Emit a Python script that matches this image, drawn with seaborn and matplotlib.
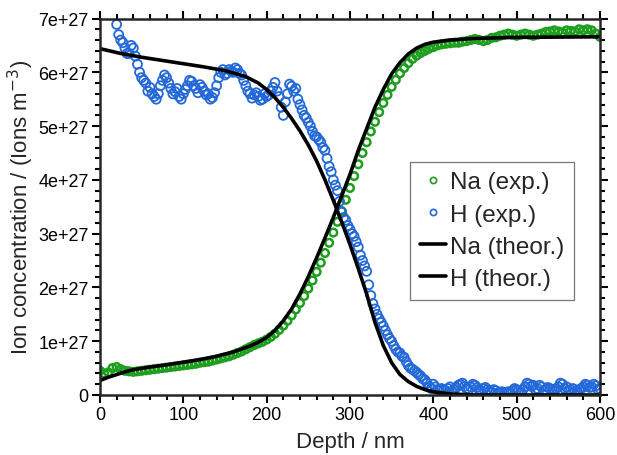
import numpy as np
import pandas as pd
import matplotlib
matplotlib.use("Agg")
import matplotlib.pyplot as plt
import seaborn as sns
from matplotlib.lines import Line2D
from matplotlib.ticker import MultipleLocator, FuncFormatter

# values in units of 1e27 ions m^-3
na_exp_depth = list(range(0, 601, 5))
na_exp = [
    0.45, 0.40, 0.42, 0.50, 0.52, 0.48, 0.45, 0.44, 0.43, 0.44,
    0.45, 0.46, 0.47, 0.48, 0.49, 0.50, 0.51, 0.52, 0.53, 0.54,
    0.55, 0.56, 0.57, 0.58, 0.60, 0.61, 0.62, 0.64, 0.66, 0.68,
    0.70, 0.72, 0.75, 0.78, 0.81, 0.85, 0.89, 0.93, 0.96, 0.99,
    1.03, 1.08, 1.14, 1.21, 1.29, 1.38, 1.48, 1.59, 1.71, 1.84,
    1.98, 2.13, 2.29, 2.46, 2.64, 2.83, 3.02, 3.22, 3.42, 3.63,
    3.85, 4.07, 4.29, 4.50, 4.70, 4.90, 5.08, 5.26, 5.43, 5.58,
    5.73, 5.86, 5.98, 6.08, 6.17, 6.25, 6.31, 6.36, 6.40, 6.44,
    6.47, 6.50, 6.52, 6.53, 6.54, 6.55, 6.55, 6.57, 6.58, 6.60,
    6.62, 6.60, 6.58, 6.60, 6.64, 6.65, 6.68, 6.70, 6.72, 6.70,
    6.68, 6.70, 6.72, 6.70, 6.68, 6.70, 6.72, 6.75, 6.76, 6.78,
    6.76, 6.74, 6.78, 6.77, 6.76, 6.80, 6.78, 6.80, 6.78, 6.72,
    6.66,
]

h_exp_depth = list(range(20, 601, 5))
h_exp = [
    6.89, 6.60, 6.45, 6.35, 6.45, 6.15, 5.90, 5.80, 5.72, 5.55,
    5.60, 5.85, 5.90, 5.70, 5.64, 5.55, 5.60, 5.75, 5.83, 5.70,
    5.77, 5.65, 5.60, 5.53, 5.75, 6.00, 5.95, 6.05, 6.00, 6.05,
    5.95, 5.75, 5.60, 5.58, 5.55, 5.50, 5.55, 5.65, 5.81, 5.55,
    5.20, 5.60, 5.74, 5.70, 5.40, 5.20, 5.07, 4.90, 4.80, 4.70,
    4.55, 4.25, 4.00, 3.80, 3.40, 3.25, 3.08, 2.95, 2.75, 2.50,
    2.30, 1.85, 1.60, 1.42, 1.28, 1.12, 1.00, 0.85, 0.78, 0.70,
    0.55, 0.48, 0.42, 0.35, 0.28, 0.15, 0.20, 0.10, 0.12, 0.08,
    0.15, 0.10, 0.18, 0.22, 0.12, 0.15, 0.18, 0.10, 0.12, 0.10,
    0.05, 0.08, 0.05, 0.03, 0.06, 0.08, 0.10, 0.06, 0.15, 0.20,
    0.18, 0.12, 0.15, 0.10, 0.12, 0.08, 0.15, 0.20, 0.15, 0.10,
    0.06, 0.10, 0.15, 0.18, 0.15, 0.17, 0.12,
]

# second H reading, between the depths above
h_exp2_depth = list(np.arange(22.5, 600, 5))
h_exp2 = [
    6.70, 6.55, 6.35, 6.50, 6.30, 6.00, 5.85, 5.65, 5.60, 5.50,
    5.75, 5.95, 5.80, 5.60, 5.70, 5.50, 5.68, 5.85, 5.75, 5.62,
    5.72, 5.58, 5.50, 5.62, 5.90, 6.05, 5.98, 6.02, 6.08, 5.98,
    5.85, 5.65, 5.52, 5.62, 5.48, 5.60, 5.58, 5.72, 5.65, 5.35,
    5.45, 5.78, 5.65, 5.50, 5.30, 5.15, 5.00, 4.82, 4.75, 4.60,
    4.40, 4.15, 3.90, 3.60, 3.30, 3.15, 3.00, 2.85, 2.60, 2.40,
    2.05, 1.70, 1.50, 1.35, 1.20, 1.05, 0.92, 0.80, 0.72, 0.62,
    0.50, 0.45, 0.38, 0.30, 0.22, 0.12, 0.15, 0.08, 0.10, 0.12,
    0.06, 0.14, 0.20, 0.16, 0.10, 0.20, 0.14, 0.08, 0.14, 0.07,
    0.10, 0.04, 0.06, 0.05, 0.04, 0.12, 0.08, 0.10, 0.22, 0.16,
    0.10, 0.18, 0.08, 0.14, 0.10, 0.12, 0.22, 0.12, 0.08, 0.12,
    0.08, 0.12, 0.20, 0.14, 0.20, 0.10,
]

na_th_depth = [0, 10, 20, 30, 40, 60, 80, 100, 120, 140, 160, 180, 190, 200,
               210, 220, 230, 240, 250, 260, 270, 280, 290, 300, 310, 320,
               330, 340, 350, 360, 370, 380, 390, 400, 420, 450, 500, 600]
na_th = [0.27, 0.33, 0.38, 0.43, 0.47, 0.52, 0.56, 0.61, 0.66, 0.72, 0.80,
         0.91, 0.98, 1.07, 1.20, 1.38, 1.60, 1.88, 2.20, 2.55, 2.92, 3.30,
         3.70, 4.10, 4.55, 4.95, 5.35, 5.68, 5.97, 6.18, 6.34, 6.45, 6.52,
         6.56, 6.60, 6.63, 6.65, 6.66]

h_th_depth = [0, 25, 50, 75, 100, 125, 150, 175, 190, 200, 210, 220, 230,
              240, 250, 260, 270, 280, 290, 300, 310, 320, 330, 340, 350,
              360, 370, 380, 390, 400, 420, 450, 600]
h_th = [6.44, 6.35, 6.28, 6.22, 6.16, 6.10, 6.03, 5.92, 5.80, 5.68, 5.53,
        5.35, 5.14, 4.91, 4.65, 4.35, 4.00, 3.62, 3.22, 2.80, 2.35, 1.88,
        1.35, 0.92, 0.60, 0.38, 0.25, 0.16, 0.10, 0.06, 0.02, 0.0, 0.0]

GREEN = "#1e9e1e"
BLUE = "#2368d8"

na_df = pd.DataFrame({"depth": na_exp_depth, "conc": np.array(na_exp) * 1e27})
h_df = pd.concat([
    pd.DataFrame({"depth": h_exp_depth, "conc": np.array(h_exp) * 1e27}),
    pd.DataFrame({"depth": h_exp2_depth, "conc": np.array(h_exp2) * 1e27}),
]).sort_values("depth")
na_th_df = pd.DataFrame({"depth": na_th_depth, "conc": np.array(na_th) * 1e27})
h_th_df = pd.DataFrame({"depth": h_th_depth, "conc": np.array(h_th) * 1e27})

sns.set_style("ticks")
plt.rcParams["font.family"] = ["Liberation Sans", "DejaVu Sans"]

fig = plt.figure(figsize=(6.17, 4.56), dpi=100)
ax = fig.add_axes([0.162, 0.1316, 0.8104, 0.8256])

sns.scatterplot(data=na_df, x="depth", y="conc", ax=ax, marker="o",
                facecolors="none", edgecolor=GREEN, linewidth=1.8, s=30,
                legend=False)
sns.scatterplot(data=h_df, x="depth", y="conc", ax=ax, marker="o",
                facecolors="none", edgecolor=BLUE, linewidth=1.3, s=42,
                legend=False)
sns.lineplot(data=na_th_df, x="depth", y="conc", ax=ax, color="black",
             linewidth=2.6, legend=False)
sns.lineplot(data=h_th_df, x="depth", y="conc", ax=ax, color="black",
             linewidth=2.6, legend=False)

ax.set_xlim(0, 600)
ax.set_ylim(0, 7e27)
ax.xaxis.set_major_locator(MultipleLocator(100))
ax.xaxis.set_minor_locator(MultipleLocator(20))
ax.yaxis.set_major_locator(MultipleLocator(1e27))
ax.yaxis.set_minor_locator(MultipleLocator(0.2e27))
ax.yaxis.set_major_formatter(FuncFormatter(
    lambda v, p: "0" if abs(v) < 1e20 else f"{v / 1e27:.0f}e+27"))

for side in ["left", "right", "top", "bottom"]:
    ax.spines[side].set_linewidth(1.8)
    ax.spines[side].set_visible(True)
ax.tick_params(which="both", direction="out", top=True, right=True,
               width=1.5, labelsize=13, colors="black", pad=2)
ax.tick_params(which="major", length=6)
ax.tick_params(which="minor", length=3.5)

ax.set_xlabel("Depth / nm", fontsize=16, labelpad=6)
ax.set_ylabel("Ion concentration / (Ions m$^{-3}$)", fontsize=16, labelpad=2)

handles = [
    Line2D([], [], linestyle="none", marker="o", markerfacecolor="none",
           markeredgecolor=GREEN, markersize=4.5, markeredgewidth=1.2),
    Line2D([], [], linestyle="none", marker="o", markerfacecolor="none",
           markeredgecolor=BLUE, markersize=4.5, markeredgewidth=1.2),
    Line2D([], [], color="black", linewidth=2.6),
    Line2D([], [], color="black", linewidth=2.6),
]
labels = ["Na (exp.)", "H (exp.)", "Na (theor.)", "H (theor.)"]
leg = ax.legend(handles, labels, loc="upper left", bbox_to_anchor=(0.62, 0.62),
                borderaxespad=0, fontsize=17.5, frameon=True, fancybox=False,
                handlelength=1.1, handletextpad=0.15, labelspacing=0.42,
                borderpad=0.4)
leg.get_frame().set_edgecolor("#555555")
leg.get_frame().set_linewidth(0.9)

fig.savefig("out.png", dpi=100)
